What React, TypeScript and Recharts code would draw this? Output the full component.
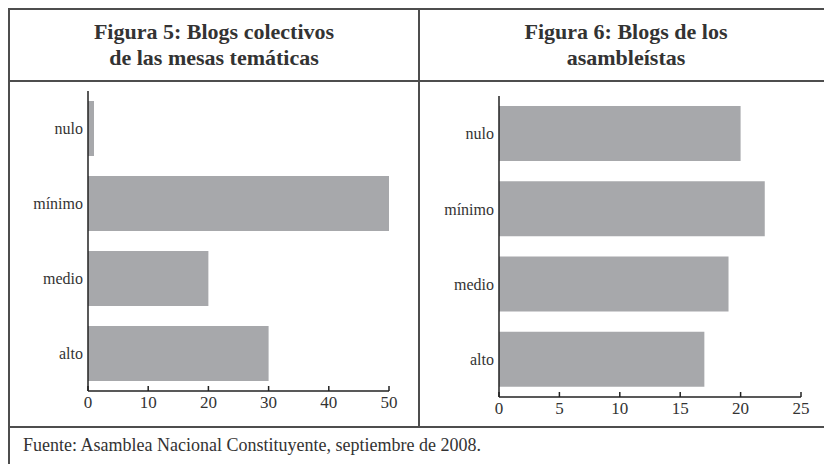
import { Bar, BarChart, XAxis, YAxis } from "recharts";

const levels = ["nulo", "mínimo", "medio", "alto"];
const mesasValues = [1, 50, 20, 30];
const asambleistasValues = [20, 22, 19, 17];
const mesasTicks = [0, 10, 20, 30, 40, 50];
const asambleistasTicks = [0, 5, 10, 15, 20, 25];

const serif = '"Liberation Serif", "DejaVu Serif", serif';
const ink = "#222";
const barGray = "#a7a8ab";
const rule = "#4d4d4d";

const mesasData = levels.map((level, i) => ({ level, value: mesasValues[i] }));
const asambleistasData = levels.map((level, i) => ({ level, value: asambleistasValues[i] }));

function BottomTick({ x, y, payload }: any) {
  return (
    <g>
      <line x1={x} y1={y} x2={x} y2={y - 5} stroke={ink} strokeWidth={1.5} />
      <text x={x} y={y + 17} textAnchor="middle" fontSize={17} fill="#333" fontFamily={serif}>
        {payload.value}
      </text>
    </g>
  );
}

interface PanelProps {
  data: { level: string; value: number }[];
  ticks: number[];
  width: number;
  margin: { top: number; right: number; bottom: number; left: number };
  yWidth: number;
  xHeight: number;
}

function Panel({ data, ticks, width, margin, yWidth, xHeight }: PanelProps) {
  return (
    <BarChart width={width} height={344} data={data} layout="vertical" margin={margin}>
      <XAxis
        type="number"
        domain={[0, ticks[ticks.length - 1]]}
        ticks={ticks}
        interval={0}
        height={xHeight}
        tickSize={0}
        tickMargin={0}
        axisLine={{ stroke: ink, strokeWidth: 1.5 }}
        tick={(props: any) => <BottomTick {...props} />}
      />
      <YAxis
        type="category"
        dataKey="level"
        width={yWidth}
        interval={0}
        tickLine={false}
        tickSize={0}
        tickMargin={5}
        axisLine={{ stroke: ink, strokeWidth: 1.5 }}
        tick={{ fill: "#333", fontSize: 16, fontFamily: serif }}
      />
      <Bar dataKey="value" fill={barGray} barSize={55} isAnimationActive={false} />
    </BarChart>
  );
}

const titleStyle: React.CSSProperties = {
  position: "absolute",
  top: 10,
  height: 70,
  display: "flex",
  alignItems: "center",
  justifyContent: "center",
  textAlign: "center",
  fontFamily: serif,
  fontWeight: "bold",
  fontSize: 22,
  lineHeight: "26px",
  color: "#333",
};

export default function App() {
  return (
    <div
      style={{
        position: "fixed",
        left: 0,
        top: 0,
        width: 824,
        height: 464,
        overflow: "hidden",
        background: "#fff",
      }}
    >
      <div
        style={{
          position: "absolute",
          left: 8,
          top: 8,
          width: 826,
          height: 470,
          border: `2px solid ${rule}`,
          boxSizing: "border-box",
        }}
      />
      <div style={{ position: "absolute", left: 8, top: 80, width: 830, height: 2, background: rule }} />
      <div style={{ position: "absolute", left: 418, top: 8, width: 2, height: 420, background: rule }} />
      <div style={{ position: "absolute", left: 8, top: 426, width: 830, height: 2, background: rule }} />

      <div style={{ ...titleStyle, left: 10, width: 408 }}>
        Figura 5: Blogs colectivos
        <br />
        de las mesas temáticas
      </div>
      <div style={{ ...titleStyle, left: 420, width: 412 }}>
        Figura 6: Blogs de los
        <br />
        asambleístas
      </div>

      <div style={{ position: "absolute", left: 10, top: 82 }}>
        <Panel
          data={mesasData}
          ticks={mesasTicks}
          width={408}
          margin={{ top: 9, right: 29, bottom: 5, left: 0 }}
          yWidth={78}
          xHeight={30}
        />
      </div>
      <div style={{ position: "absolute", left: 420, top: 82 }}>
        <Panel
          data={asambleistasData}
          ticks={asambleistasTicks}
          width={404}
          margin={{ top: 14, right: 23, bottom: 3, left: 0 }}
          yWidth={79}
          xHeight={26}
        />
      </div>

      <div
        style={{
          position: "absolute",
          left: 23,
          top: 434,
          fontFamily: serif,
          fontSize: 18,
          lineHeight: "22px",
          color: "#333",
          whiteSpace: "nowrap",
        }}
      >
        Fuente: Asamblea Nacional Constituyente, septiembre de 2008.
      </div>
    </div>
  );
}
